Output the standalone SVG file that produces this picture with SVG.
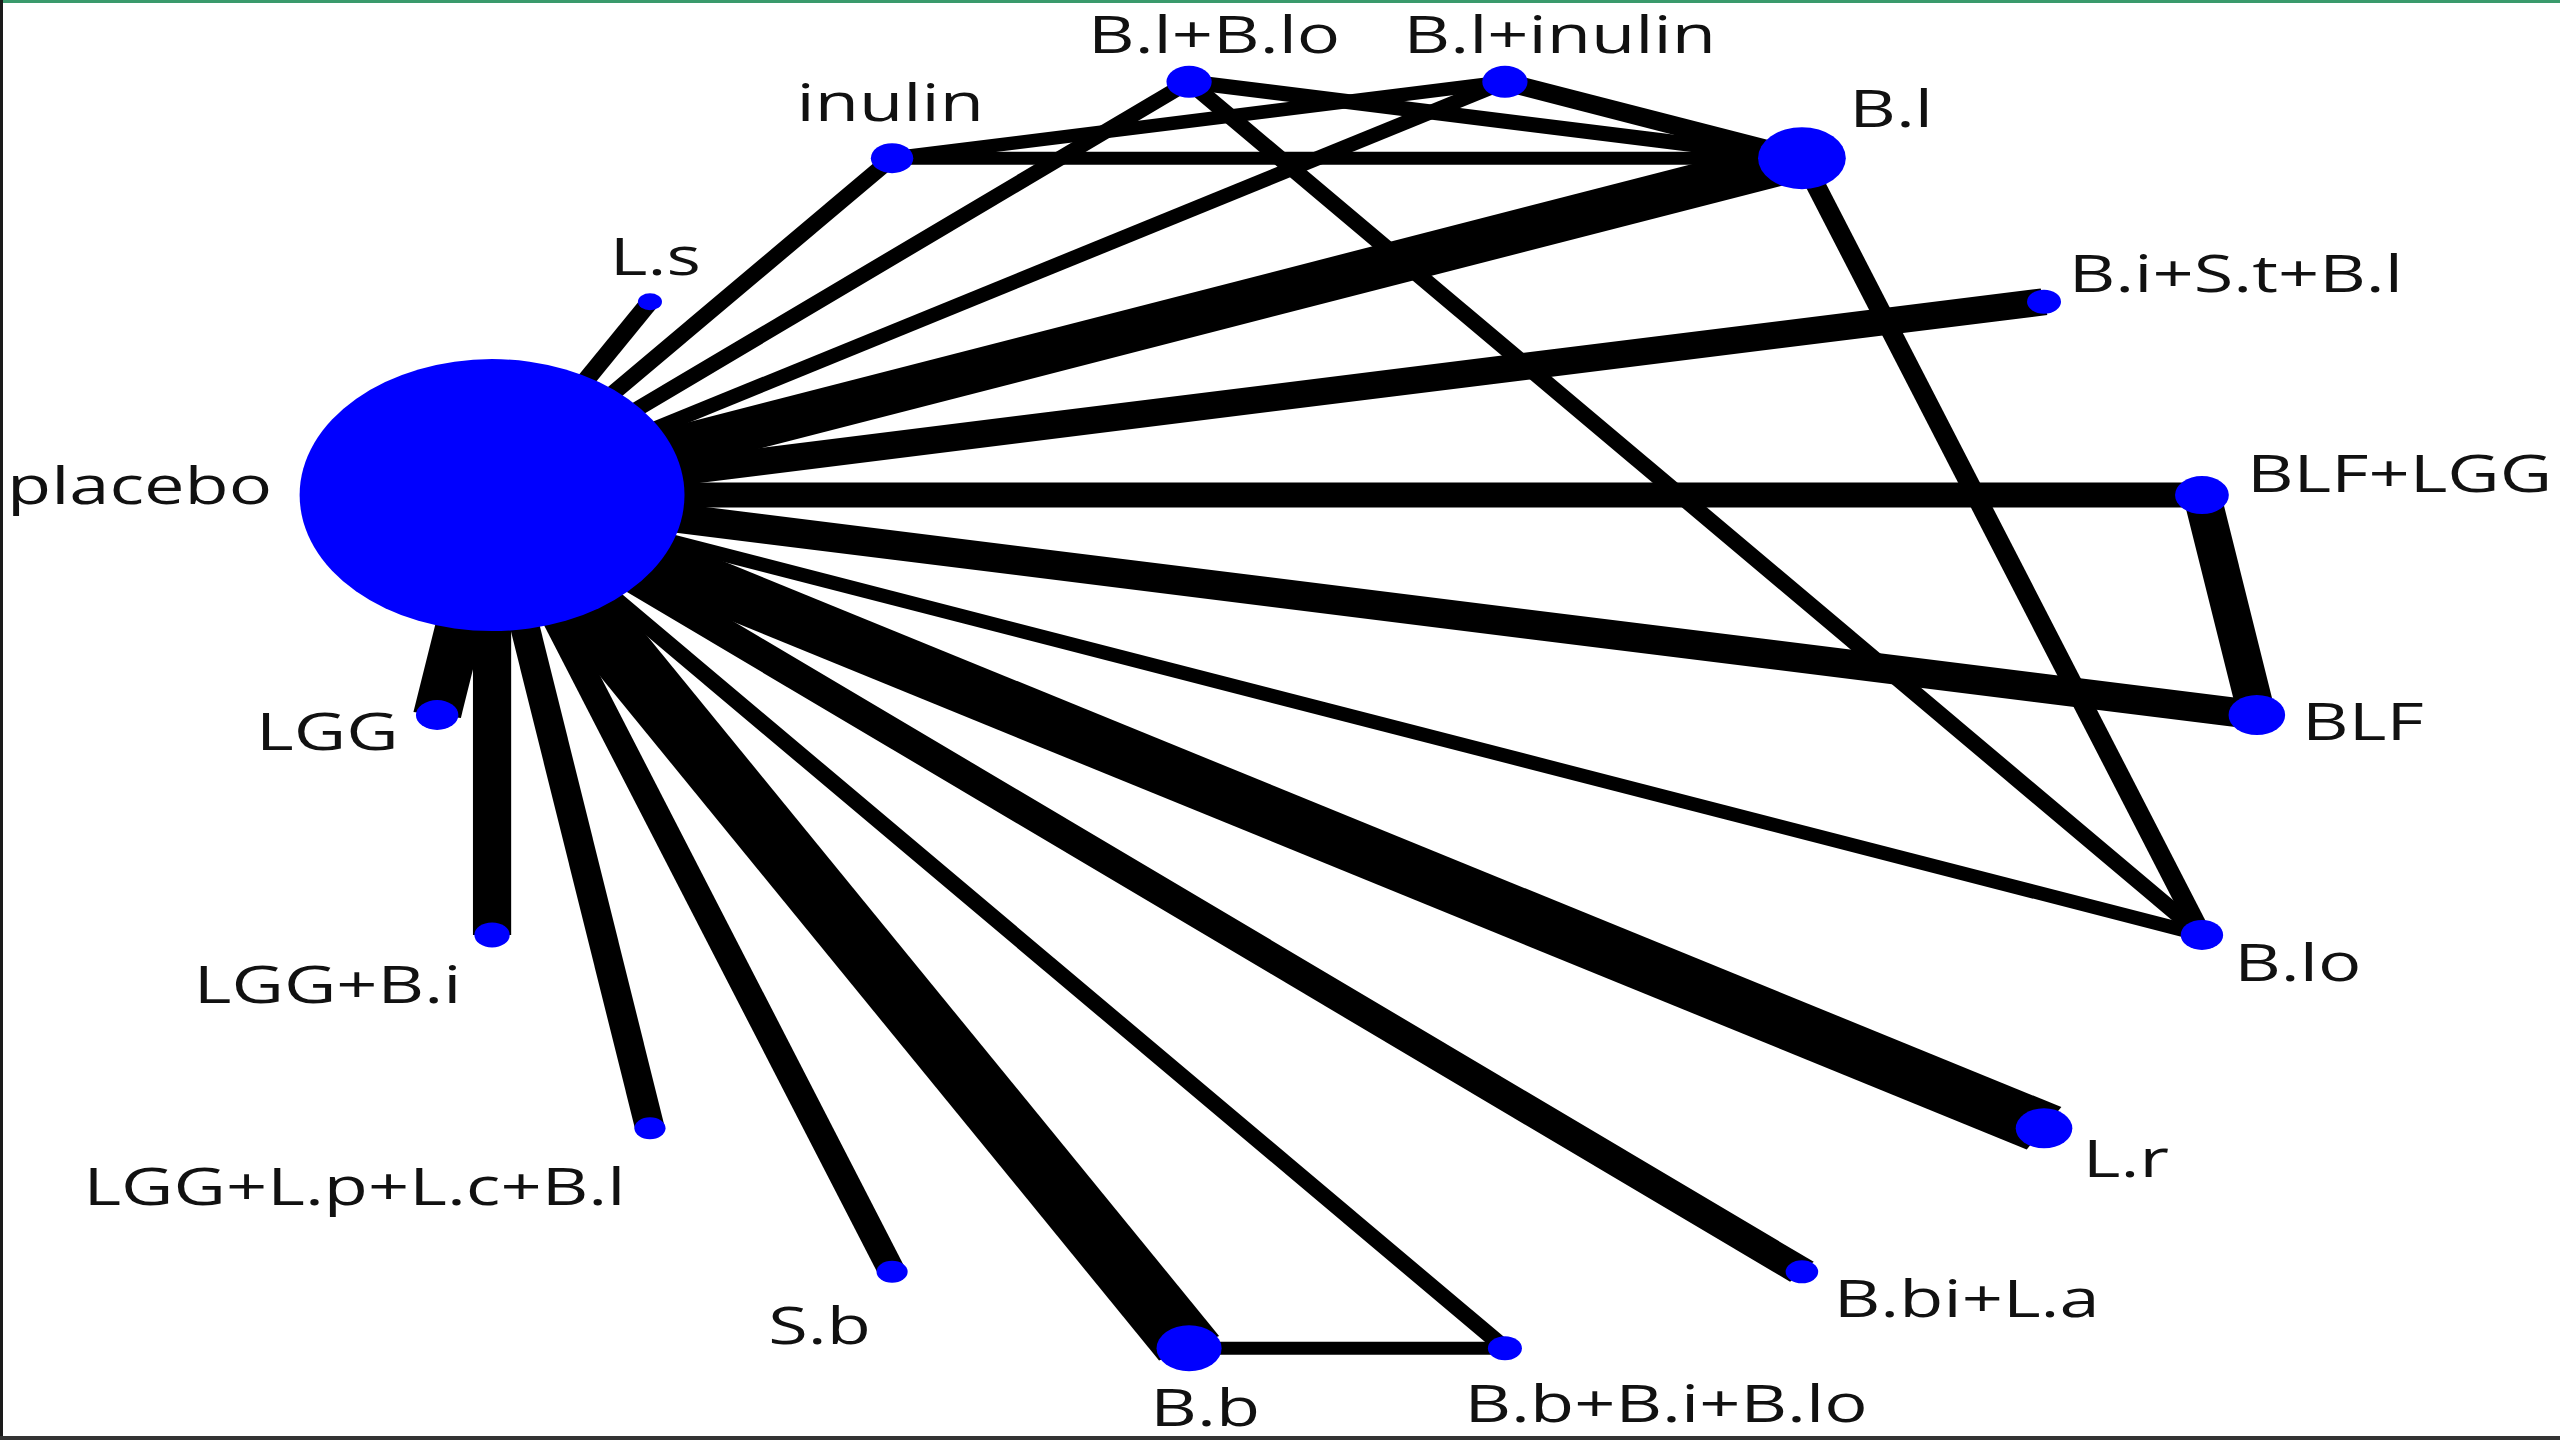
<svg xmlns="http://www.w3.org/2000/svg" width="2560" height="1440" viewBox="0 0 2560 1440">
<style>
.e{stroke:#000;stroke-linecap:butt;fill:none}
.n{fill:#0000ff}
.t{font-family:"Open Sans","Noto Sans","DejaVu Sans",sans-serif;font-size:51px;fill:#111}
</style>
<rect x="0" y="0" width="2560" height="1440" fill="#ffffff"/>
<rect x="0" y="0" width="2560" height="3" fill="#3a9a6c"/>
<rect x="0" y="0" width="3" height="1440" fill="#1a1a1a"/>
<rect x="0" y="1436" width="2560" height="4" fill="#333333"/>
<g transform="translate(1347,715) scale(1.415,1)">
<g id="connectors">
<line class="e" x1="-604.2" y1="-219.9" x2="-492.6" y2="-413.3" stroke-width="14"/>
<line class="e" x1="-604.2" y1="-219.9" x2="-321.5" y2="-556.8" stroke-width="13.5"/>
<line class="e" x1="-604.2" y1="-219.9" x2="-111.6" y2="-633.2" stroke-width="13.5"/>
<line class="e" x1="-604.2" y1="-219.9" x2="111.6" y2="-633.2" stroke-width="13.5"/>
<line class="e" x1="-604.2" y1="-219.9" x2="321.5" y2="-556.8" stroke-width="42"/>
<line class="e" x1="-604.2" y1="-219.9" x2="492.6" y2="-413.3" stroke-width="27"/>
<line class="e" x1="-604.2" y1="-219.9" x2="604.2" y2="-219.9" stroke-width="25"/>
<line class="e" x1="-604.2" y1="-219.9" x2="643" y2="0" stroke-width="29"/>
<line class="e" x1="-604.2" y1="-219.9" x2="604.2" y2="219.9" stroke-width="13.5"/>
<line class="e" x1="-604.2" y1="-219.9" x2="492.6" y2="413.3" stroke-width="49"/>
<line class="e" x1="-604.2" y1="-219.9" x2="321.5" y2="556.8" stroke-width="26"/>
<line class="e" x1="-604.2" y1="-219.9" x2="111.6" y2="633.2" stroke-width="13.5"/>
<line class="e" x1="-604.2" y1="-219.9" x2="-111.6" y2="633.2" stroke-width="49"/>
<line class="e" x1="-604.2" y1="-219.9" x2="-321.5" y2="556.8" stroke-width="20"/>
<line class="e" x1="-604.2" y1="-219.9" x2="-492.6" y2="413.3" stroke-width="21"/>
<line class="e" x1="-604.2" y1="-219.9" x2="-604.2" y2="219.9" stroke-width="27"/>
<line class="e" x1="-604.2" y1="-219.9" x2="-643" y2="0" stroke-width="34"/>
<line class="e" x1="-321.5" y1="-556.8" x2="321.5" y2="-556.8" stroke-width="13"/>
<line class="e" x1="-321.5" y1="-556.8" x2="111.6" y2="-633.2" stroke-width="13.5"/>
<line class="e" x1="-111.6" y1="-633.2" x2="321.5" y2="-556.8" stroke-width="15"/>
<line class="e" x1="-111.6" y1="-633.2" x2="604.2" y2="219.9" stroke-width="13.5"/>
<line class="e" x1="111.6" y1="-633.2" x2="321.5" y2="-556.8" stroke-width="18"/>
<line class="e" x1="321.5" y1="-556.8" x2="604.2" y2="219.9" stroke-width="14.5"/>
<line class="e" x1="604.2" y1="-219.9" x2="643" y2="0" stroke-width="27"/>
<line class="e" x1="-111.6" y1="633.2" x2="111.6" y2="633.2" stroke-width="13"/>
</g>
<g id="node-placebo"><circle class="n" cx="-604.2" cy="-219.9" r="136"/><text class="t" x="-947" y="-211">placebo</text></g>
<g id="node-Ls"><circle class="n" cx="-492.6" cy="-413.3" r="8.5"/><text class="t" x="-521" y="-440">L.s</text></g>
<g id="node-inulin"><circle class="n" cx="-321.5" cy="-556.8" r="15"/><text class="t" x="-389" y="-594">inulin</text></g>
<g id="node-Bl-Blo"><circle class="n" cx="-111.6" cy="-633.2" r="16"/><text class="t" x="-183" y="-662">B.l+B.lo</text></g>
<g id="node-Bl-inulin"><circle class="n" cx="111.6" cy="-633.2" r="16"/><text class="t" x="40" y="-662">B.l+inulin</text></g>
<g id="node-Bl"><circle class="n" cx="321.5" cy="-556.8" r="31"/><text class="t" x="355" y="-588">B.l</text></g>
<g id="node-Bi-St-Bl"><circle class="n" cx="492.6" cy="-413.3" r="12"/><text class="t" x="510" y="-423">B.i+S.t+B.l</text></g>
<g id="node-BLF-LGG"><circle class="n" cx="604.2" cy="-219.9" r="19"/><text class="t" x="636" y="-223">BLF+LGG</text></g>
<g id="node-BLF"><circle class="n" cx="643" cy="0" r="20"/><text class="t" x="675" y="25">BLF</text></g>
<g id="node-Blo"><circle class="n" cx="604.2" cy="219.9" r="15"/><text class="t" x="627" y="266">B.lo</text></g>
<g id="node-Lr"><circle class="n" cx="492.6" cy="413.3" r="20"/><text class="t" x="520" y="462">L.r</text></g>
<g id="node-Bbi-La"><circle class="n" cx="321.5" cy="556.8" r="11.5"/><text class="t" x="344" y="602">B.bi+L.a</text></g>
<g id="node-Bb-Bi-Blo"><circle class="n" cx="111.6" cy="633.2" r="12"/><text class="t" x="83" y="707">B.b+B.i+B.lo</text></g>
<g id="node-Bb"><circle class="n" cx="-111.6" cy="633.2" r="23"/><text class="t" x="-139" y="711">B.b</text></g>
<g id="node-Sb"><circle class="n" cx="-321.5" cy="556.8" r="11"/><text class="t" x="-409" y="629">S.b</text></g>
<g id="node-LGG-Lp-Lc-Bl"><circle class="n" cx="-492.6" cy="413.3" r="11"/><text class="t" x="-893" y="490">LGG+L.p+L.c+B.l</text></g>
<g id="node-LGG-Bi"><circle class="n" cx="-604.2" cy="219.9" r="12.5"/><text class="t" x="-815" y="288">LGG+B.i</text></g>
<g id="node-LGG"><circle class="n" cx="-643" cy="0" r="15"/><text class="t" x="-771" y="35">LGG</text></g>
</g>
</svg>
